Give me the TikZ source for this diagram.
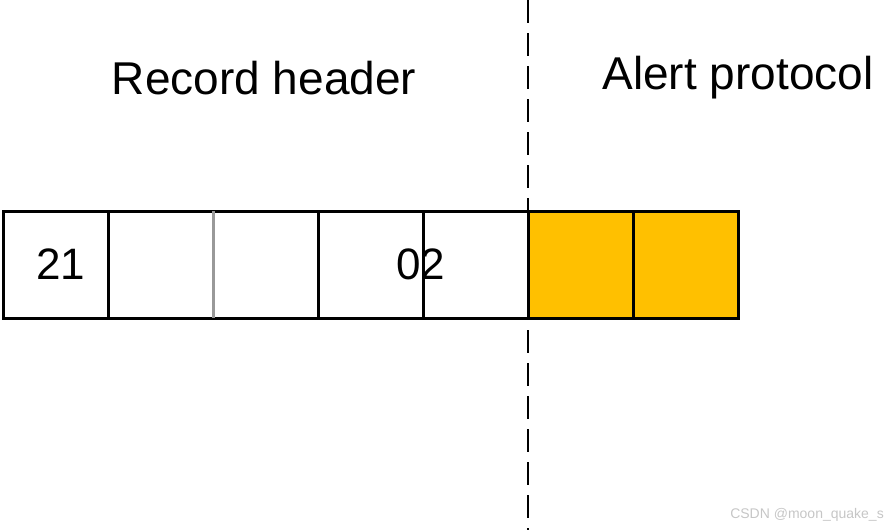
\documentclass[tikz,border=0pt]{standalone}
\usepackage{fontspec}
\setmainfont{Liberation Sans}
\usepackage{xcolor}
\usetikzlibrary{positioning}
\definecolor{alertfill}{HTML}{FFC000}

\begin{document}
\begin{tikzpicture}[x=1pt,y=-1pt,
    cell/.style={draw=black, line width=3pt, minimum width=105pt,
      minimum height=107pt, inner sep=0pt, outer sep=0pt,
      font=\fontsize{44}{48}\selectfont},
    title/.style={font=\fontsize{46}{52}\selectfont, inner sep=0pt}]
\useasboundingbox (0,0) rectangle (888,530);
% record: five header bytes and two alert bytes
\foreach \i/\col in {1/white,2/white,3/white,4/white,5/white,
    6/alertfill,7/alertfill}
  \node[cell, fill=\col] (cell\i) at (-49.5+105*\i,264.5) {};
\draw[gray!80, line width=3pt] (cell2.north east) -- (cell2.south east);
\node[font=\fontsize{44}{48}\selectfont, inner sep=0pt]
  (type) at ([xshift=5pt]cell1.center) {21};
\node[font=\fontsize{44}{48}\selectfont, inner sep=0pt]
  (len) at ([xshift=-2pt]cell4.east) {02};
%
\coordinate (cut top) at (528,0);
\coordinate (cut bot) at (528,530);
\draw[line width=2pt, dash pattern=on 23pt off 10pt] (cut top) -- (cut bot);
%
\node[title] (rec) at (264,78) {Record header};
\node[title] (alert) at (738,78) {Alert protocol};
\node[font=\fontsize{14}{16}\selectfont, text=gray!45, anchor=east,
  inner sep=0pt] (mark) at (884,515) {CSDN @moon\_quake\_s};
\end{tikzpicture}
\end{document}
